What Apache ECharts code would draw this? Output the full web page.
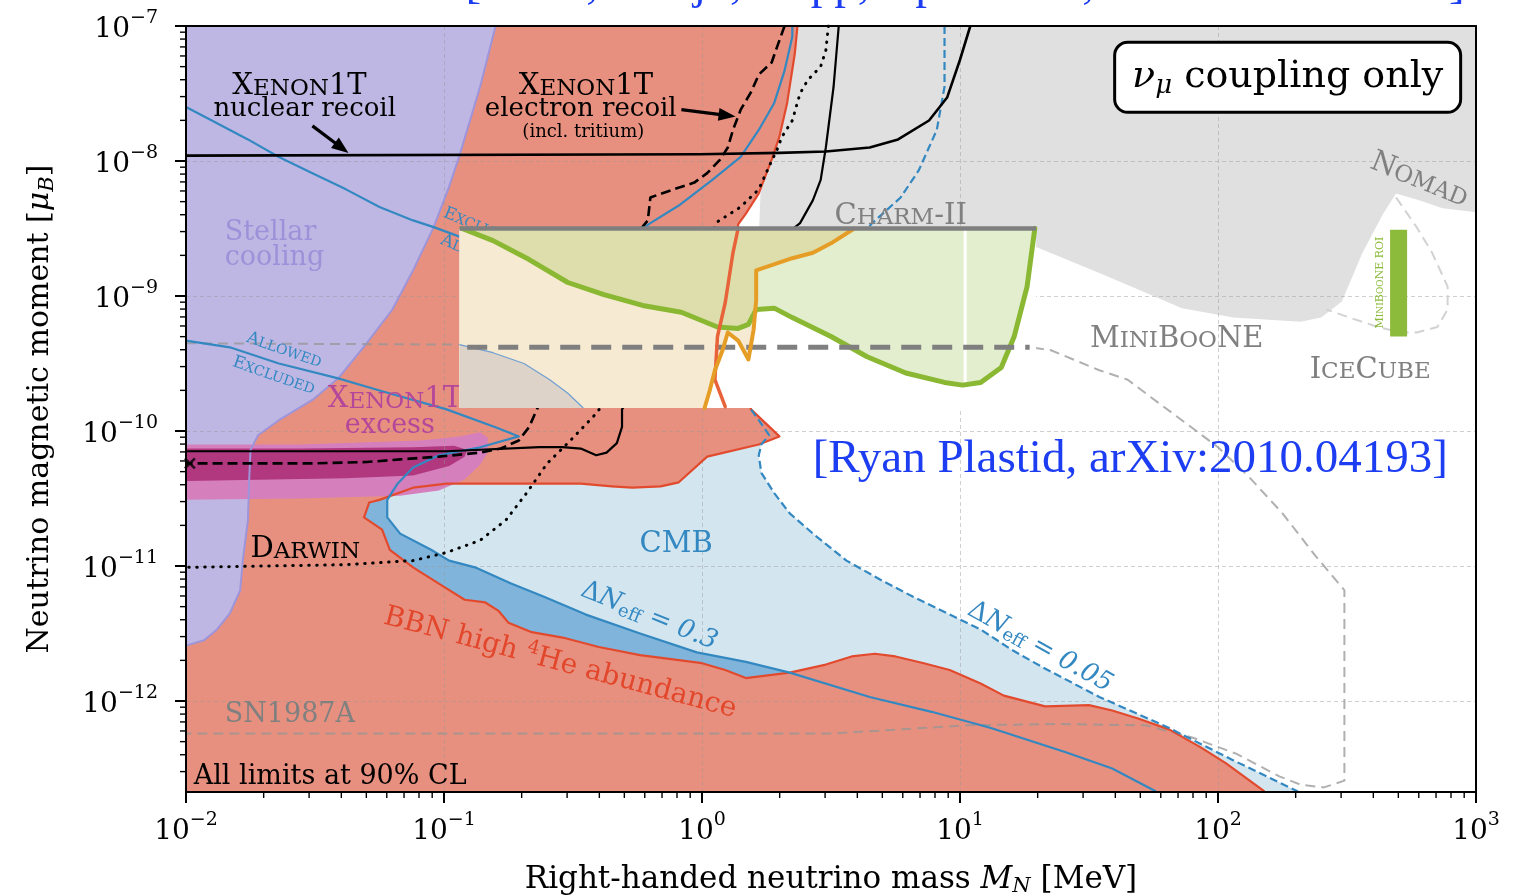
<!DOCTYPE html>
<html>
<head>
<meta charset="utf-8">
<title>Neutrino magnetic moment limits</title>
<script src="https://cdn.jsdelivr.net/npm/echarts@6.0.0/dist/echarts.min.js"></script>
<style>
html,body{margin:0;padding:0;background:#fff;}
#chart{width:1515px;height:896px;}
</style>
</head>
<body>
<div id="chart"></div>
<script>
// Every coordinate below is a decade exponent:
//   x = log10(M_N / MeV),  y = log10(mu / mu_B)

const massDecades = [-2, -1, 0, 1, 2, 3];
const momentDecades = [-12, -11, -10, -9, -8, -7];
const momentFloor = -12.674;

// Stellar cooling bound
const stellarEdge = [[-0.80,-7.00],[-0.86,-7.45],[-0.94,-7.96],[-0.98,-8.19],[-1.04,-8.49],[-1.12,-8.81],[-1.20,-9.10],[-1.30,-9.35],[-1.41,-9.61],[-1.51,-9.77],[-1.64,-9.92],[-1.72,-10.03],[-1.75,-10.14],[-1.755,-10.36],[-1.76,-10.66],[-1.78,-10.96],[-1.79,-11.18],[-1.83,-11.35],[-1.88,-11.47],[-1.93,-11.55],[-2.00,-11.59]];

// BBN high 4He abundance bound
const bbnEdge = [[0.37,-7.00],[0.36,-7.20],[0.33,-7.57],[0.30,-7.82],[0.27,-7.99],[0.22,-8.24],[0.17,-8.39],[0.14,-8.47],[0.13,-9.03],[0.15,-9.47],[0.18,-9.77],[0.19,-9.84],[0.30,-10.04],[0.22,-10.10],[0.02,-10.19],[-0.09,-10.38],[-0.16,-10.41],[-0.27,-10.42],[-0.35,-10.41],[-0.47,-10.39],[-0.99,-10.39],[-1.12,-10.42],[-1.25,-10.51],[-1.29,-10.53],[-1.31,-10.64],[-1.24,-10.73],[-1.21,-10.88],[-1.12,-11.01],[-1.02,-11.13],[-0.92,-11.25],[-0.84,-11.27],[-0.79,-11.33],[-0.75,-11.42],[-0.66,-11.49],[-0.54,-11.53],[-0.40,-11.60],[-0.24,-11.66],[0.00,-11.72],[0.09,-11.77],[0.17,-11.83],[0.34,-11.79],[0.48,-11.73],[0.58,-11.67],[0.67,-11.65],[0.75,-11.67],[0.86,-11.72],[0.96,-11.77],[1.08,-11.87],[1.17,-11.96],[1.33,-12.04],[1.50,-12.03],[1.59,-12.07],[1.69,-12.13],[1.81,-12.21],[1.93,-12.34],[2.03,-12.46],[2.18,-12.67]];

// CMB, Delta N_eff = 0.05 contour
const cmbNeff005 = [[0.94,-7.00],[0.94,-7.45],[0.91,-7.77],[0.84,-8.07],[0.77,-8.27],[0.66,-8.46],[0.53,-8.73],[0.38,-9.25],[0.26,-9.70],[0.19,-9.84],[0.22,-9.92],[0.26,-10.03],[0.23,-10.10],[0.22,-10.18],[0.23,-10.31],[0.28,-10.46],[0.34,-10.61],[0.43,-10.76],[0.56,-10.96],[0.69,-11.10],[0.82,-11.23],[0.95,-11.35],[1.08,-11.47],[1.20,-11.62],[1.32,-11.75],[1.54,-11.97],[1.80,-12.19],[2.06,-12.44],[2.31,-12.67]];

// CMB, Delta N_eff = 0.3 contour (runs in from the left edge, folds back at its tip)
const cmbNeff03 = [[-2.00,-9.33],[-1.83,-9.38],[-1.64,-9.50],[-1.41,-9.61],[-1.25,-9.70],[-0.99,-9.84],[-0.79,-9.98],[-0.71,-10.04],[-0.86,-10.12],[-1.02,-10.18],[-1.12,-10.27],[-1.18,-10.39],[-1.22,-10.51],[-1.22,-10.64],[-1.17,-10.76],[-1.05,-10.88],[-0.98,-10.96],[-0.88,-11.01],[-0.74,-11.13],[-0.61,-11.23],[-0.45,-11.36],[-0.24,-11.50],[-0.02,-11.64],[0.17,-11.71],[0.34,-11.79],[0.65,-11.97],[0.89,-12.08],[1.12,-12.20],[1.41,-12.38],[1.59,-12.50],[1.76,-12.67]];
const cmbBandStart = 11;   // first point of cmbNeff03 on the lower fold

// Upper blue exclusion contour
const blueUpper = [[-2.00,-7.60],[-1.90,-7.70],[-1.76,-7.84],[-1.64,-7.97],[-1.51,-8.09],[-1.38,-8.21],[-1.25,-8.34],[-1.12,-8.44],[-1.04,-8.49],[-0.94,-8.56],[-0.59,-8.75],[-0.32,-8.62],[-0.20,-8.46],[-0.09,-8.33],[0.04,-8.14],[0.15,-7.97],[0.22,-7.77],[0.28,-7.57],[0.32,-7.33],[0.35,-7.08],[0.35,-7.00]];

// Accelerator exclusions (NOMAD, CHARM-II, MiniBooNE): lower boundary, right to left
const acceleratorEdge = [[3.00,-8.38],[2.87,-8.35],[2.78,-8.29],[2.69,-8.24],[2.64,-8.39],[2.56,-8.68],[2.48,-9.04],[2.40,-9.16],[2.32,-9.19],[2.06,-9.16],[1.86,-9.09],[1.70,-8.96],[1.54,-8.83],[1.30,-8.64],[1.16,-8.59]];

// XENON1T nuclear recoil
const xenonNuclear = [[-2.00,-7.96],[-0.01,-7.95],[0.30,-7.94],[0.48,-7.93],[0.65,-7.90],[0.76,-7.84],[0.88,-7.70],[0.95,-7.53],[1.00,-7.25],[1.04,-7.00]];

// Solid black bound along 1e-10
const blackLow = [[-2.00,-10.15],[-0.99,-10.15],[-0.63,-10.12],[-0.54,-10.12],[-0.47,-10.13],[-0.41,-10.18],[-0.37,-10.16],[-0.33,-10.09],[-0.31,-9.97],[-0.31,-9.84],[-0.09,-9.18],[0.38,-8.46],[0.43,-8.29],[0.46,-8.14],[0.48,-7.90],[0.51,-7.45],[0.53,-7.00]];

// XENON1T electron recoil (incl. tritium)
const xenonElectron = [[0.32,-7.00],[0.29,-7.16],[0.27,-7.27],[0.22,-7.36],[0.19,-7.49],[0.15,-7.62],[0.12,-7.77],[0.10,-7.90],[0.07,-7.99],[0.02,-8.09],[-0.03,-8.16],[-0.11,-8.21],[-0.20,-8.27],[-0.21,-8.44],[-0.40,-8.88],[-0.64,-9.84],[-0.67,-9.97],[-0.71,-10.07],[-0.78,-10.13],[-0.86,-10.16],[-1.02,-10.19],[-1.17,-10.21],[-1.30,-10.23],[-1.51,-10.24],[-2.00,-10.24]];
const xenonElectronEnd = [[-1.985,-10.24]];

// DARWIN projection
const darwin = [[0.49,-7.00],[0.48,-7.18],[0.46,-7.30],[0.41,-7.40],[0.38,-7.50],[0.35,-7.70],[0.31,-7.82],[0.29,-7.92],[0.26,-8.04],[0.22,-8.21],[0.15,-8.34],[0.06,-8.45],[-0.09,-9.03],[-0.41,-9.87],[-0.51,-10.07],[-0.60,-10.24],[-0.68,-10.46],[-0.76,-10.66],[-0.86,-10.81],[-0.99,-10.90],[-1.12,-10.96],[-1.38,-10.99],[-2.00,-11.01]];

// MiniBooNE and SN1987A (one closed dashed outline)
const minibooneSN = [[-2.00,-9.35],[-0.94,-9.36],[1.27,-9.38],[1.35,-9.40],[1.54,-9.55],[1.65,-9.62],[1.74,-9.75],[1.86,-9.92],[2.00,-10.12],[2.12,-10.34],[2.25,-10.61],[2.38,-10.93],[2.49,-11.18],[2.49,-12.59],[2.41,-12.64],[2.32,-12.62],[2.24,-12.56],[2.07,-12.39],[1.90,-12.27],[1.72,-12.18],[1.38,-12.17],[1.03,-12.18],[0.77,-12.21],[0.51,-12.24],[-2.00,-12.24]];

// IceCube
const iceCube = [[2.69,-8.27],[2.77,-8.49],[2.83,-8.68],[2.89,-8.93],[2.89,-9.10],[2.85,-9.23],[2.77,-9.27],[2.71,-9.27],[2.62,-9.23],[2.51,-9.16],[2.42,-9.10]];

// MiniBooNE region of interest
const roiBar = [[2.70,-8.51],[2.70,-9.30]];

// XENON1T excess bands
const excessOuter = [[-2.00,-10.10],[-1.56,-10.10],[-1.09,-10.07],[-0.94,-10.04],[-0.86,-10.01],[-0.83,-10.05],[-0.83,-10.16],[-0.86,-10.25],[-0.92,-10.36],[-1.02,-10.44],[-1.17,-10.48],[-1.56,-10.50],[-2.00,-10.51]];
const excessInner = [[-2.00,-10.13],[-1.56,-10.13],[-1.12,-10.12],[-0.96,-10.11],[-0.91,-10.14],[-0.92,-10.19],[-0.98,-10.26],[-1.12,-10.33],[-1.38,-10.35],[-2.00,-10.37]];

// Annotation arrows: [fromX, fromY, toX, toY]
const arrows = [[-1.51,-7.74,-1.37,-7.94],[-0.08,-7.62,0.13,-7.67]];

// Inset panel (Plastid): frame and curves
const insetMass = [-0.94, 1.295];
const insetMoment = [-8.50, -9.83];
const insetGreen = [[-0.93,-8.50],[-0.81,-8.59],[-0.67,-8.73],[-0.52,-8.90],[-0.38,-8.99],[-0.23,-9.07],[-0.08,-9.12],[0.06,-9.23],[0.14,-9.24],[0.18,-9.21],[0.21,-9.10],[0.28,-9.09],[0.35,-9.16],[0.50,-9.30],[0.64,-9.45],[0.79,-9.57],[0.94,-9.64],[1.01,-9.66],[1.08,-9.64],[1.16,-9.53],[1.21,-9.30],[1.26,-8.93],[1.29,-8.50]];
const insetOrange = [[0.59,-8.50],[0.50,-8.61],[0.43,-8.68],[0.35,-8.72],[0.21,-8.81],[0.21,-9.03],[0.20,-9.25],[0.18,-9.47],[0.14,-9.33],[0.10,-9.27],[0.08,-9.40],[0.05,-9.55],[0.03,-9.70],[0.01,-9.83]];
const insetRed = [[0.14,-8.50],[0.12,-8.68],[0.09,-9.05],[0.06,-9.30],[0.05,-9.62],[0.09,-9.82]];
const insetPatch = [[-0.94,-9.36],[-0.81,-9.42],[-0.69,-9.50],[-0.59,-9.62],[-0.52,-9.72],[-0.46,-9.83]];
const insetDash = [[-0.91,-9.38],[1.27,-9.38]];
const insetDivider = [[1.02,-8.50],[1.02,-9.64]];

// ---------------------------------------------------------------
const F = 'DejaVu Serif';
const BLUE = '#3388c1';

function poly(points, fill, z, extra) {
  return {
    type: 'custom', coordinateSystem: 'cartesian2d', z, silent: true,
    data: [[0, 0]],
    renderItem: (params, api) => ({
      type: 'polygon',
      shape: { points: points.map(p => api.coord(p)) },
      style: Object.assign({ fill }, extra || {})
    })
  };
}
function path(points, color, width, dash, z, cap) {
  return {
    type: 'line', data: points, z, silent: true, showSymbol: false, symbol: 'none',
    lineStyle: { color, width, type: dash || 'solid', cap: cap || 'butt', join: 'round' },
    clip: true, animation: false
  };
}

// Decade ticks (major) and 2..9 sub-decade ticks (minor)
const massMajor = [], massMinor = [];
for (const d of massDecades) {
  massMajor.push([d, momentFloor]);
  if (d < 3) for (let k = 2; k <= 9; k++) massMinor.push([d + Math.log10(k), momentFloor]);
}
const momentMajor = [], momentMinor = [];
for (let d = -13; d <= -7; d++) {
  if (d >= -12) momentMajor.push([-2, d]);
  for (let k = 2; k <= 9; k++) {
    const v = d + Math.log10(k);
    if (v > momentFloor && v < -7) momentMinor.push([-2, v]);
  }
}

const tickRich = {
  b: { fontFamily: F, fontSize: 28, color: '#000', padding: [8, 0, 0, 0] },
  s: { fontFamily: F, fontSize: 19, color: '#000', padding: [0, 0, 16, 0] }
};
const pow10 = v => { const e = Math.round(v); return '{b|10}{s|' + (e < 0 ? '\u2212' + (-e) : e) + '}'; };

const blackLine = { color: '#000', width: 2 };
function frameAxis(pos, min, max) {
  return { type: 'value', min, max, position: pos, z: 50,
    axisLine: { show: true, onZero: false, lineStyle: blackLine },
    axisTick: { show: false }, axisLabel: { show: false }, splitLine: { show: false } };
}
const gridLine = { show: true, lineStyle: { color: 'rgba(150,150,150,0.45)', width: 1, type: [4, 3] } };

const cmbRegion = cmbNeff005.slice(9).concat([[2.31, momentFloor], [-1.5, momentFloor], [-1.5, -9.84]]);
const bandRegion = cmbNeff03.slice(cmbBandStart).concat([[-2, momentFloor], [-2, -10.39]]);
const acceleratorRegion = [[0.25, -7], [3, -7]].concat(acceleratorEdge, [[0.22, -8.59]]);
const bbnRegion = [[-2, momentFloor], [-2, -7]].concat(bbnEdge);
const stellarRegion = [[-2, -7]].concat(stellarEdge);
const insetFrame = [[insetMass[0], insetMoment[0]], [insetMass[1], insetMoment[0]], [insetMass[1], insetMoment[1]], [insetMass[0], insetMoment[1]]];
const insetCream = [[insetMass[0], insetMoment[0]]].concat(insetOrange, [[insetMass[0], insetMoment[1]]]);
const insetPatchRegion = insetPatch.concat([[insetMass[0], insetMoment[1]]]);

const option = {
  animation: false,
  backgroundColor: '#fff',
  grid: { left: 186, top: 26, right: 39, bottom: 104, containLabel: false, outerBoundsMode: 'none' },
  xAxis: [
    { type: 'value', min: -2, max: 3, interval: 1, position: 'bottom', z: 10,
      axisLine: { show: true, onZero: false, lineStyle: blackLine },
      axisTick: { show: false },
      axisLabel: { margin: 18, formatter: pow10, rich: tickRich, showMinLabel: true, showMaxLabel: true, hideOverlap: false },
      splitLine: gridLine,
      name: 'Right-handed neutrino mass {i|M}{sub|N} [MeV]',
      nameLocation: 'middle', nameGap: 70,
      nameTextStyle: { fontFamily: F, fontSize: 31, color: '#000',
        rich: { i: { fontFamily: F, fontSize: 31, fontStyle: 'italic', color: '#000' },
                sub: { fontFamily: F, fontSize: 21, fontStyle: 'italic', color: '#000', padding: [14, 0, 0, 0] } } } },
    frameAxis('top', -2, 3),
    frameAxis('bottom', -2, 3)
  ],
  yAxis: [
    { type: 'value', min: momentFloor, max: -7, position: 'left', z: 10,
      axisLine: { show: true, onZero: false, lineStyle: blackLine },
      axisTick: { show: false, customValues: momentDecades },
      axisLabel: { margin: 28, customValues: momentDecades, formatter: pow10, rich: tickRich, hideOverlap: false },
      splitLine: gridLine,
      name: 'Neutrino magnetic moment [{i|\u03bc}{sub|B}]',
      nameLocation: 'middle', nameGap: 128, nameRotate: 90,
      nameTextStyle: { fontFamily: F, fontSize: 30, color: '#000',
        rich: { i: { fontFamily: F, fontSize: 30, fontStyle: 'italic', color: '#000' },
                sub: { fontFamily: F, fontSize: 21, fontStyle: 'italic', color: '#000', padding: [14, 0, 0, 0] } } } },
    frameAxis('right', momentFloor, -7),
    frameAxis('left', momentFloor, -7)
  ],
  series: [
    // filled regions
    poly(cmbRegion, '#d3e6f0', 1),
    poly(bandRegion, '#80b4da', 2),
    poly(acceleratorRegion, '#e0e0e0', 3),
    poly(bbnRegion, '#e8907f', 4),
    poly(stellarRegion, '#bfb7e3', 5),
    poly(excessOuter, '#d580bd', 6),
    poly(excessInner, '#b1377f', 7),
    // boundary and limit curves
    path(stellarEdge, '#9d94da', 2, 'solid', 11),
    path(minibooneSN, 'rgba(150,150,150,0.75)', 2, [10, 6], 12),
    path(iceCube, '#d2d2d2', 2, [10, 6], 12),
    path(roiBar, '#8cbb3c', 17, 'solid', 12),
    path(bbnEdge, '#e24a2e', 2.2, 'solid', 13),
    path(cmbNeff03, BLUE, 2.2, 'solid', 14),
    path(blueUpper, BLUE, 2.2, 'solid', 14),
    path(cmbNeff005, BLUE, 2.2, [8, 4], 14),
    path(xenonNuclear, '#000', 2.6, 'solid', 15),
    path(blackLow, '#000', 2.2, 'solid', 15),
    path(xenonElectron, '#000', 2.6, [10, 5], 15),
    path(darwin, '#000', 3, [0.5, 7.5], 15, 'round'),
    { type: 'scatter', data: xenonElectronEnd, z: 16, silent: true, clip: false,
      symbol: 'path://M0,0L10,10M10,0L0,10', symbolSize: 10,
      itemStyle: { color: 'none', borderColor: '#000', borderWidth: 2.5 } },
    { type: 'custom', coordinateSystem: 'cartesian2d', z: 24, silent: true, data: arrows,
      renderItem: (params, api) => {
        const p0 = api.coord([api.value(0), api.value(1)]);
        const p1 = api.coord([api.value(2), api.value(3)]);
        const dx = p1[0] - p0[0], dy = p1[1] - p0[1], L = Math.hypot(dx, dy);
        const ux = dx / L, uy = dy / L, hl = 17, hw = 6.5;
        const bx = p1[0] - ux * hl, by = p1[1] - uy * hl;
        return { type: 'group', children: [
          { type: 'line', shape: { x1: p0[0], y1: p0[1], x2: bx + ux * 2, y2: by + uy * 2 }, style: { stroke: '#000', lineWidth: 3.2 } },
          { type: 'polygon', shape: { points: [p1, [bx - uy * hw, by + ux * hw], [bx + uy * hw, by - ux * hw]] }, style: { fill: '#000' } }
        ] };
      } },
    // inset panel
    poly(insetFrame, '#ffffff', 30),
    poly(insetCream, '#f7ead3', 31),
    poly(insetGreen, 'rgba(138,184,51,0.24)', 32),
    poly(insetPatchRegion, '#ddd3c9', 33),
    path(insetPatch, '#6f9fd2', 1.2, 'solid', 34),
    path(insetDivider, '#ffffff', 3, 'solid', 34),
    path(insetGreen, '#8ab833', 5, 'solid', 35, 'round'),
    path(insetDash, '#7f7f7f', 5, [20, 11], 36),
    path(insetRed, '#e8623a', 3.5, 'solid', 37, 'round'),
    path(insetOrange, '#e69d26', 4, 'solid', 37, 'round'),
    path([[insetMass[0], insetMoment[0]], [insetMass[1], insetMoment[0]]], '#7f7f7f', 4.5, 'solid', 38)
  ]
};

// text annotations, anchored in data coordinates
const notes = [
  { at: [-1.56, -7.45], t: '{B|X}{s|ENON}{B|1T}', size: 29, color: '#000' },
  { at: [-1.54, -7.62], t: 'nuclear recoil', size: 26, color: '#000' },
  { at: [-0.45, -7.45], t: '{B|X}{s|ENON}{B|1T}', size: 29, color: '#000' },
  { at: [-0.47, -7.62], t: 'electron recoil', size: 26, color: '#000' },
  { at: [-0.46, -7.79], t: '(incl. tritium)', size: 18, color: '#000' },
  { at: [-1.85, -8.53], t: 'Stellar', size: 27, color: '#9c92d9', align: 'left' },
  { at: [-1.85, -8.72], t: 'cooling', size: 27, color: '#9c92d9', align: 'left' },
  { at: [-1.62, -9.40], t: '{B|A}{s|LLOWED}', size: 17, color: BLUE, rot: -19 },
  { at: [-1.66, -9.59], t: '{B|E}{s|XCLUDED}', size: 17, color: BLUE, rot: -19 },
  { at: [-0.845, -8.50], t: '{B|E}{s|XCLUDED}', size: 17, color: BLUE, rot: -22 },
  { at: [-0.87, -8.69], t: '{B|A}{s|LLOWED}', size: 17, color: BLUE, rot: -22 },
  { at: [-1.19, -9.77], t: '{B|X}{s|ENON}{B|1T}', size: 29, color: '#b5479b' },
  { at: [-1.21, -9.96], t: 'excess', size: 27, color: '#b5479b' },
  { at: [-1.75, -10.88], t: '{B|D}{s|ARWIN}', size: 29, color: '#000', align: 'left' },
  { at: [-0.10, -10.84], t: 'CMB', size: 29, color: BLUE },
  { at: [-0.205, -11.37], t: '{n|\u0394}{i|N}{sub|eff}{n| = }{i|0.3}', size: 26, color: BLUE, rot: -22 },
  { at: [1.31, -11.60], t: '{n|\u0394}{i|N}{sub|eff}{n| = }{i|0.05}', size: 26, color: BLUE, rot: -29 },
  { at: [-0.55, -11.72], t: 'BBN high {sup|4}He abundance', size: 28, color: '#e2472c', rot: -15 },
  { at: [-1.85, -12.10], t: 'SN1987A', size: 27, color: '#808080', align: 'left' },
  { at: [-1.97, -12.56], t: 'All limits at 90% CL', size: 27, color: '#000', align: 'left' },
  { at: [2.78, -8.14], t: '{B|N}{s|OMAD}', size: 29, color: '#808080', rot: -22 },
  { at: [0.77, -8.41], t: '{B|C}{s|HARM}{B|-II}', size: 29, color: '#808080' },
  { at: [1.84, -9.32], t: '{B|M}{s|INI}{B|B}{s|OO}{B|NE}', size: 29, color: '#808080' },
  { at: [2.59, -9.55], t: '{B|I}{s|CE}{B|C}{s|UBE}', size: 29, color: '#808080' },
  { at: [2.63, -8.90], t: '{B|M}{s|INI}{B|B}{s|OO}{B|NE ROI}', size: 11, color: '#8cbb3c', rot: 90 }
];
const topNotes = [
  { at: [1.66, -10.21], t: '[Ryan Plastid, arXiv:2010.04193]', size: 47, color: '#1d3df2', family: 'Liberation Serif' },
  { at: [1.02, -6.70], t: '[Brdar, Greljo, Kopp, Opferkuch, arXiv:2007.15563]', size: 47, color: '#1d3df2', family: 'Liberation Serif' }
];
const boxNote = { at: [2.27, -7.38], t: '{i|\u03bd}{isub|\u03bc}{n| coupling only}', size: 38, color: '#000' };

function richFor(size, color, family) {
  const small = Math.round(size * 0.8);
  const base = { fontFamily: family, fontSize: size, fill: color };
  return {
    B: base, n: base,
    s: { fontFamily: family, fontSize: small, fill: color, padding: [Math.round(0.6 * (size - small)), 0, 0, 0] },
    i: { fontFamily: family, fontSize: size, fill: color, fontStyle: 'italic' },
    sub: { fontFamily: family, fontSize: Math.round(size * 0.68), fill: color, padding: [Math.round(size * 0.45), 0, 0, 0] },
    isub: { fontFamily: family, fontSize: Math.round(size * 0.68), fill: color, fontStyle: 'italic', padding: [Math.round(size * 0.45), 0, 0, 0] },
    sup: { fontFamily: family, fontSize: Math.round(size * 0.68), fill: color, padding: [0, 0, Math.round(size * 0.55), 0] }
  };
}

const chart = echarts.init(document.getElementById('chart'), null, { renderer: 'canvas' });
chart.setOption(option);
const toPx = p => chart.convertToPixel({ xAxisIndex: 0, yAxisIndex: 0 }, p);

function textEl(n, z) {
  const [x, y] = toPx(n.at);
  const family = n.family || F;
  return {
    type: 'text', x, y, z, silent: true,
    rotation: (n.rot || 0) * Math.PI / 180,
    style: {
      text: n.t, fontFamily: family, fontSize: n.size, font: n.size + 'px "' + family + '"',
      fill: n.color, align: n.align || 'center', verticalAlign: 'middle',
      textAlign: n.align || 'center', textVerticalAlign: 'middle',
      rich: richFor(n.size, n.color, family)
    }
  };
}
// outward tick mark on the frame, as a thin filled bar
function tickEl(p, w, h, dx, dy) {
  const [x, y] = toPx(p);
  return { type: 'rect', z: 70, silent: true,
    shape: { x: x + dx, y: y + dy, width: w, height: h },
    style: { fill: '#000' } };
}

const graphics = notes.map(n => textEl(n, 25)).concat(topNotes.map(n => textEl(n, 45)));
const [bx, by] = toPx(boxNote.at);
graphics.push({ type: 'rect', x: bx - 173, y: by - 35, z: 44, silent: true,
  shape: { width: 346, height: 70, r: 13 }, style: { fill: '#fff', stroke: '#000', lineWidth: 3 } });
graphics.push(textEl(boxNote, 45));
massMajor.forEach(p => graphics.push(tickEl(p, 2, 11, -1, 0)));
massMinor.forEach(p => graphics.push(tickEl(p, 1.4, 6, -0.7, 0)));
momentMajor.forEach(p => graphics.push(tickEl(p, 11, 2, -11, -1)));
momentMinor.forEach(p => graphics.push(tickEl(p, 6, 1.4, -6, -0.7)));
chart.setOption({ graphic: graphics });
</script>
</body>
</html>
